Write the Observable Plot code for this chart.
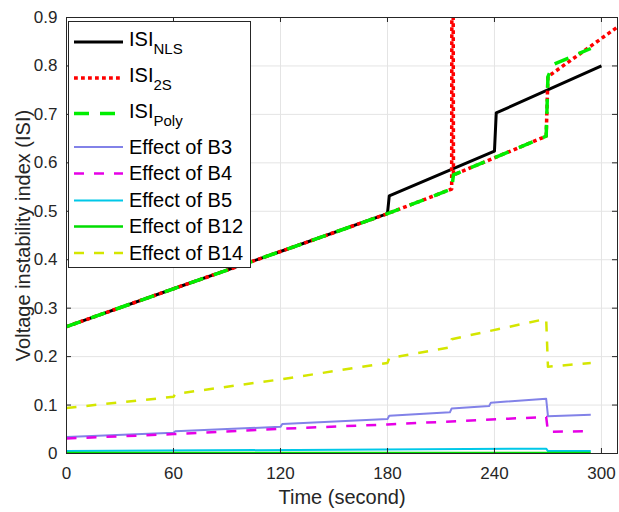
<!DOCTYPE html>
<html>
<head>
<meta charset="utf-8">
<script src="https://cdn.jsdelivr.net/npm/d3@7"></script>
<script src="https://cdn.jsdelivr.net/npm/@observablehq/plot@0.6"></script>
<style>
  html, body { margin: 0; padding: 0; background: white; }
  #wrap { position: relative; width: 619px; height: 512px; font-family: "Liberation Sans", Arial, sans-serif; }
  #legend { position: absolute; left: 68px; top: 21px; width: 181px; height: 245px; border: 1px solid #262626; background: white; }
</style>
</head>
<body>
<div id="wrap"></div>
<script>
// ---- data ----
const xTicks = [0, 60, 120, 180, 240, 300];
const yTicks = [0, 0.1, 0.2, 0.3, 0.4, 0.5, 0.6, 0.7, 0.8, 0.9];
const xLabel = "Time (second)";
const yLabel = "Voltage instability index (ISI)";

const tNLS = [0, 60, 120, 180, 181, 240, 241, 300];
const vNLS = [0.262, 0.340, 0.417, 0.495, 0.532, 0.624, 0.703, 0.800];

const t2S = [0, 60, 120, 180, 216, 216.4, 217, 269, 270, 310];
const v2S = [0.262, 0.340, 0.417, 0.495, 0.546, 2.0, 0.575, 0.655, 0.778, 0.883];

const tPoly = [0, 60, 120, 180, 216, 217, 269, 270, 273, 294];
const vPoly = [0.262, 0.340, 0.417, 0.495, 0.546, 0.575, 0.655, 0.778, 0.803, 0.836];

const tB3 = [0, 60, 61, 120, 121, 180, 181, 215, 216, 237, 238, 269, 270, 294];
const vB3 = [0.034, 0.043, 0.046, 0.055, 0.061, 0.071, 0.078, 0.085, 0.093, 0.098, 0.105, 0.113, 0.077, 0.080];

const tB4 = [0, 60, 120, 180, 269, 270, 294];
const vB4 = [0.031, 0.040, 0.051, 0.060, 0.0755, 0.045, 0.046];

const tB5 = [0, 269, 270, 294];
const vB5 = [0.005, 0.010, 0.005, 0.005];

const tB12 = [0, 294];
const vB12 = [0.001, 0.001];

const tB14 = [0, 60, 61, 120, 180, 181, 215, 216, 269, 270, 294];
const vB14 = [0.094, 0.117, 0.123, 0.153, 0.187, 0.197, 0.219, 0.236, 0.278, 0.179, 0.187];

const series = [
  {name: "ISI", sub: "NLS", t: tNLS, v: vNLS, color: "#000000", width: 3, dash: null},
  {name: "ISI", sub: "2S", t: t2S, v: v2S, color: "#ff0000", width: 3.5, dash: "3.8,3.2"},
  {name: "ISI", sub: "Poly", t: tPoly, v: vPoly, color: "#00ee00", width: 3.5, dash: "15,11"},
  {name: "Effect of B3", t: tB3, v: vB3, color: "#8282e8", width: 2, dash: null},
  {name: "Effect of B4", t: tB4, v: vB4, color: "#e600e6", width: 2.5, dash: "10,10"},
  {name: "Effect of B5", t: tB5, v: vB5, color: "#00c8e8", width: 2, dash: null},
  {name: "Effect of B12", t: tB12, v: vB12, color: "#00dd00", width: 2.5, dash: null},
  {name: "Effect of B14", t: tB14, v: vB14, color: "#d4e600", width: 2.5, dash: "10,10"}
];

const axisColor = "#262626";
const fmt = d => String(+d.toFixed(1));

const lineMarks = series.map(s => Plot.line(d3.zip(s.t, s.v), {
  x: d => d[0], y: d => d[1],
  stroke: s.color, strokeWidth: s.width,
  strokeDasharray: s.dash || undefined,
  strokeLinejoin: "round", strokeLinecap: "butt",
  clip: true
}));

const plot = Plot.plot({
  width: 619, height: 512,
  marginLeft: 66, marginRight: 2, marginTop: 17, marginBottom: 59,
  style: {fontFamily: "'Liberation Sans', Arial, sans-serif", fontSize: "17px", color: axisColor, background: "white", overflow: "visible"},
  x: {domain: [0, 309]},
  y: {domain: [0, 0.9]},
  marks: [
    Plot.gridX(xTicks, {stroke: "#e4e4e4", strokeOpacity: 1}),
    Plot.gridY(yTicks, {stroke: "#e4e4e4", strokeOpacity: 1}),
    Plot.axisX(xTicks, {tickSize: 0, tickPadding: 13, tickFormat: fmt, fontSize: 17, label: null}),
    Plot.axisY(yTicks, {tickSize: 0, tickPadding: 9, tickFormat: fmt, fontSize: 17, label: null}),
    Plot.text([xLabel], {text: d => d, frameAnchor: "bottom", dy: 50, lineAnchor: "bottom", textAnchor: "middle", fontSize: 20, fill: axisColor}),
    Plot.text([yLabel], {text: d => d, frameAnchor: "left", dx: -37, rotate: -90, lineAnchor: "bottom", textAnchor: "middle", fontSize: 20, fill: axisColor}),
    ...lineMarks,
    Plot.ruleX(xTicks, {x: d => d, insetTop: 431, stroke: axisColor}),
    Plot.ruleX(xTicks, {x: d => d, insetBottom: 431, stroke: axisColor}),
    Plot.ruleY(yTicks, {y: d => d, insetRight: 546, stroke: axisColor}),
    Plot.ruleY(yTicks, {y: d => d, insetLeft: 546, stroke: axisColor}),
    Plot.frame({stroke: axisColor, strokeWidth: 1})
  ]
});

const wrap = document.getElementById("wrap");
wrap.appendChild(plot);

// ---- legend (inside the axes box, upper left) ----
const leg = document.createElement("div");
leg.id = "legend";
wrap.appendChild(leg);
const rowsY = [20, 56, 91.5, 125, 151.5, 178.5, 204.5, 231];
const lsvg = d3.select(leg).append("svg").attr("width", 181).attr("height", 245)
  .style("font-family", "'Liberation Sans', Arial, sans-serif");
series.forEach((s, i) => {
  const y = rowsY[i];
  lsvg.append("line").attr("x1", 5).attr("x2", 54).attr("y1", y).attr("y2", y)
    .attr("stroke", s.color).attr("stroke-width", s.width)
    .attr("stroke-dasharray", s.dash);
  const t = lsvg.append("text").attr("x", 60).attr("fill", "#000");
  if (s.sub) {
    t.attr("y", y + 4).attr("font-size", 20).text(s.name);
    t.append("tspan").attr("font-size", 15).attr("dy", 8).text(s.sub);
  } else {
    t.attr("y", y + 6.5).attr("font-size", 20).text(s.name);
  }
});
</script>
</body>
</html>
